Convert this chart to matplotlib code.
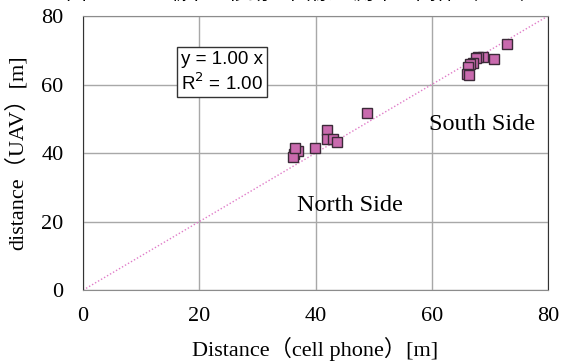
import matplotlib
matplotlib.use("Agg")
import matplotlib.pyplot as plt

# distance measured by cell phone [m] vs distance from UAV image [m]
north_phone = [36.3, 37.0, 36.1, 36.5, 39.9, 42.0, 42.0, 43.0, 43.7, 48.9]
north_uav = [39.7, 40.6, 38.8, 41.5, 41.5, 46.6, 44.1, 44.1, 43.2, 51.7]
south_phone = [72.9, 70.7, 68.8, 68.0, 67.6, 67.1, 66.6, 66.2, 66.1, 66.4]
south_uav = [71.8, 67.4, 68.0, 68.0, 67.7, 66.3, 66.0, 65.1, 63.1, 62.8]

fit_x = [0, 80]
fit_y = [0, 80]

SERIF = ["Liberation Serif", "Noto Sans CJK JP"]

fig = plt.figure(figsize=(5.69, 3.64), dpi=100)
ax = fig.add_axes([0.146, 0.203, 0.817, 0.753])

ax.plot(fit_x, fit_y, linestyle=(0, (1, 1.5)), color="#e07cc8", lw=1.0, zorder=2)
ax.plot(north_phone + south_phone, north_uav + south_uav, linestyle="none",
        marker="s", markersize=7.5, markerfacecolor="#c96aae",
        markeredgecolor="#3b2a38", markeredgewidth=1.0, zorder=3)

ax.set_xlim(0, 80)
ax.set_ylim(0, 80)
ax.set_xticks([0, 20, 40, 60, 80])
ax.set_yticks([0, 20, 40, 60, 80])
ax.grid(True, color="#a8a8a8", lw=1.0)
ax.set_axisbelow(True)
ax.tick_params(length=0)
ax.tick_params(axis="x", pad=12)
ax.tick_params(axis="y", pad=14)
for lab in ax.get_xticklabels() + ax.get_yticklabels():
    lab.set_family(SERIF)
    lab.set_fontsize(16)
for side in ["top", "bottom"]:
    ax.spines[side].set_color("#8c8c8c")
for side in ["left", "right"]:
    ax.spines[side].set_color("#333333")

ax.set_xlabel("Distance（cell phone）[m]", family=SERIF, fontsize=16, labelpad=8)
ax.set_ylabel("distance（UAV）[m]", family=SERIF, fontsize=16, labelpad=10)

ax.text(23.9, 63.6, "y = 1.00 x\nR$^2$ = 1.00", family="Liberation Sans",
        fontsize=13.5, ha="center", va="center", linespacing=1.25,
        bbox=dict(boxstyle="square,pad=0.2", fc="white", ec="#333333", lw=1.0))
ax.text(46.0, 24.8, "North Side", family=SERIF, fontsize=17.5, ha="center", va="center")
ax.text(68.7, 48.2, "South Side", family=SERIF, fontsize=17.5, ha="center", va="center")

# title cut off at the top of the picture
fig.text(0.114, 0.99, "図", family=["Noto Sans CJK JP"], fontsize=15, va="bottom")
fig.text(0.95, 0.99, "端末の移動と画像の測距の関係（地上）", family=["Noto Sans CJK JP"],
         fontsize=15, va="bottom", ha="right")

fig.savefig("out.png", dpi=100)
